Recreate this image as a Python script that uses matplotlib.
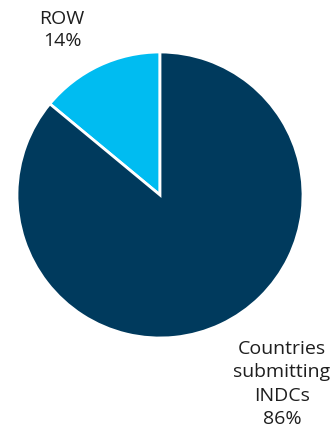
import matplotlib.pyplot as plt

labels = ['ROW', 'Countries\nsubmitting\nINDCs']
shares = [14, 86]
colors = ['#00BCF1', '#003A5D']

plt.rcParams['font.family'] = ['Open Sans', 'DejaVu Sans']

W, H = 334, 440
fig = plt.figure(figsize=(W / 100, H / 100), dpi=100)
ax = fig.add_axes([0, 0, 1, 1])

ax.pie(shares, colors=colors, startangle=90, counterclock=True,
       center=(160, H - 195), radius=143,
       wedgeprops=dict(edgecolor='white', linewidth=2))

# pie() resets the limits, so set pixel-like limits afterwards
ax.set_xlim(0, W)
ax.set_ylim(0, H)
ax.set_aspect('equal')
ax.axis('off')

# labels placed outside the pie
ax.text(62, H - 30, f'{labels[0]}\n{shares[0]}%', ha='center', va='center',
        fontsize=14, color='#1e1e1e', linespacing=1.33)
ax.text(282, H - 384, f'{labels[1]}\n{shares[1]}%', ha='center', va='center',
        fontsize=14, color='#1e1e1e', linespacing=1.38)

fig.savefig('out.png', dpi=100)
